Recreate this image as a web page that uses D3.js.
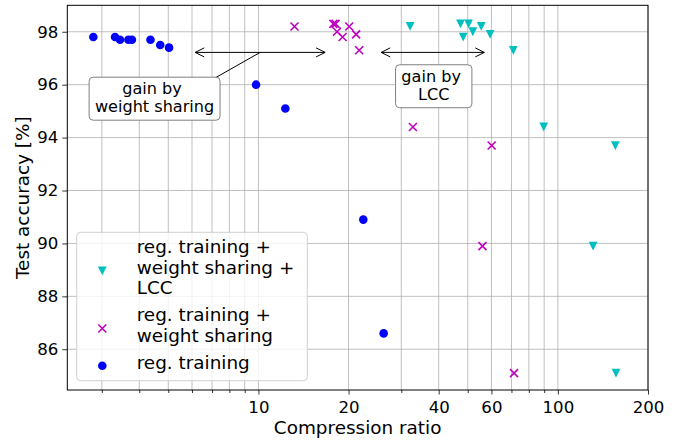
<!DOCTYPE html>
<html>
<head>
<meta charset="utf-8">
<script src="https://cdn.jsdelivr.net/npm/d3@7"></script>
<style>
  body { margin: 0; background: #fff; }
  svg { display: block; }
  text { font-family: "DejaVu Sans", sans-serif; }
</style>
</head>
<body>
<div id="chart"></div>
<script>
// reg. training (blue circles)
const regX = [2.81, 3.32, 3.45, 3.68, 3.78, 4.36, 4.70, 5.03, 9.82, 12.3, 22.4, 26.2];
const regY = [97.8, 97.8, 97.7, 97.7, 97.7, 97.7, 97.5, 97.4, 96.0, 95.1, 90.9, 86.6];

// reg. training + weight sharing (magenta crosses)
const wsX = [13.2, 17.8, 18.1, 18.3, 19.1, 20.1, 21.2, 21.7, 32.8, 60.1, 56.0, 71.4];
const wsY = [98.2, 98.3, 98.3, 98.0, 97.8, 98.2, 97.9, 97.3, 94.4, 93.7, 89.9, 85.1];

// reg. training + weight sharing + LCC (cyan triangles)
const lccX = [32.1, 47.3, 50.3, 48.3, 52.0, 55.5, 59.4, 71.0, 89.7, 155.6, 131.1, 156.4];
const lccY = [98.2, 98.3, 98.3, 97.8, 98.0, 98.2, 97.9, 97.3, 94.4, 93.7, 89.9, 85.1];

const xTickLabels = [10, 20, 40, 60, 100, 200];
const xMinorTicks = [3, 4, 5, 6, 7, 8, 9, 30, 50, 70, 80, 90];
const yTicks = [86, 88, 90, 92, 94, 96, 98];

const legendLabels = [
  ["reg. training +", "weight sharing +", "LCC"],
  ["reg. training +", "weight sharing"],
  ["reg. training"]
];

const w = 689, h = 443;
const margin = { top: 5.3, right: 41, bottom: 53, left: 67.3 };
const iw = w - margin.left - margin.right;
const ih = h - margin.top - margin.bottom;
const colors = { reg: "#0000ff", ws: "#bf00bf", lcc: "#00bfbf" };
const tickFont = 16.6, labelFont = 18.4, noteFont = 16.1;

const svg = d3.select("#chart").append("svg").attr("width", w).attr("height", h);
const g = svg.append("g").attr("transform", `translate(${margin.left},${margin.top})`);

const x = d3.scaleLog().domain([2.3, 200]).range([0, iw]);
const y = d3.scaleLinear().domain([84.46, 99.0]).range([ih, 0]);

// grid
const grid = g.append("g").attr("stroke", "#b0b0b0").attr("stroke-width", 0.8);
grid.selectAll(".vx")
  .data(xTickLabels.concat(xMinorTicks))
  .enter().append("line")
  .attr("x1", d => x(d)).attr("x2", d => x(d))
  .attr("y1", 0).attr("y2", ih);
grid.selectAll(".hy")
  .data(yTicks)
  .enter().append("line")
  .attr("x1", 0).attr("x2", iw)
  .attr("y1", d => y(d)).attr("y2", d => y(d));

// axes
const xAxis = g.append("g").attr("transform", `translate(0,${ih})`)
  .call(d3.axisBottom(x).tickValues(xTickLabels).tickFormat(d3.format("d")).tickSize(4.5).tickPadding(6.5));
const xMinor = g.append("g").attr("transform", `translate(0,${ih})`)
  .call(d3.axisBottom(x).tickValues(xMinorTicks).tickFormat("").tickSize(3));
const yAxis = g.append("g")
  .call(d3.axisLeft(y).tickValues(yTicks).tickSize(5).tickPadding(4));

[xAxis, xMinor, yAxis].forEach(a => {
  a.select(".domain").remove();
  a.selectAll("line").attr("stroke", "#000").attr("stroke-width", 0.8);
  a.selectAll("text").attr("font-size", tickFont).attr("fill", "#000")
    .attr("font-family", "DejaVu Sans");
});

// frame
g.append("rect").attr("width", iw).attr("height", ih)
  .attr("fill", "none").attr("stroke", "#000").attr("stroke-width", 1);

// labels
svg.append("text").attr("x", margin.left + iw / 2).attr("y", 434.3)
  .attr("text-anchor", "middle").attr("font-size", labelFont).text("Compression ratio");
svg.append("text")
  .attr("transform", `translate(28.5,${margin.top + ih / 2}) rotate(-90)`)
  .attr("text-anchor", "middle").attr("font-size", labelFont).text("Test accuracy [%]");

// markers
const ts = 4.4;
const triPath = `M0,${ts}L${-ts},${-ts}L${ts},${-ts}Z`;
function drawCross(sel, cx, cy, col, s) {
  sel.append("path")
    .attr("d", `M${cx - s},${cy - s}L${cx + s},${cy + s}M${cx - s},${cy + s}L${cx + s},${cy - s}`)
    .attr("stroke", col).attr("stroke-width", 1.6).attr("fill", "none");
}

const pts = g.append("g");
lccX.forEach((v, i) => {
  pts.append("path").attr("d", triPath)
    .attr("transform", `translate(${x(v)},${y(lccY[i])})`)
    .attr("fill", colors.lcc);
});
wsX.forEach((v, i) => drawCross(pts, x(v), y(wsY[i]), colors.ws, 4));
regX.forEach((v, i) => {
  pts.append("circle").attr("cx", x(v)).attr("cy", y(regY[i])).attr("r", 4.3)
    .attr("fill", colors.reg);
});

// annotations
const ann = g.append("g");
function dblArrow(x1, x2, yy) {
  const a = x(x1), b = x(x2), c = y(yy);
  ann.append("line").attr("x1", a).attr("x2", b).attr("y1", c).attr("y2", c)
    .attr("stroke", "#000").attr("stroke-width", 1);
  ann.append("path")
    .attr("d", `M${a + 9},${c - 4.5}L${a},${c}L${a + 9},${c + 4.5}M${b - 9},${c - 4.5}L${b},${c}L${b - 9},${c + 4.5}`)
    .attr("stroke", "#000").attr("fill", "none").attr("stroke-width", 1);
}
function noteBox(cxv, cyv, lines) {
  const cx = x(cxv), cy = y(cyv);
  const gg = ann.append("g");
  const rect = gg.append("rect");
  const t = gg.append("text").attr("text-anchor", "middle").attr("font-size", noteFont)
    .style("white-space", "pre");
  lines.forEach((l, i) => {
    t.append("tspan").attr("x", cx)
      .attr("y", cy + (i - (lines.length - 1) / 2) * 17.5 + 4.5).text(l);
  });
  const bb = t.node().getBBox();
  rect.attr("x", cx - bb.width / 2 - 5.8).attr("y", cy - 21.5)
    .attr("width", bb.width + 11.6).attr("height", 43).attr("rx", 4)
    .attr("fill", "#fff").attr("stroke", "#7f7f7f").attr("stroke-width", 1);
}

dblArrow(6.15, 16.7, 97.22);
ann.append("line")
  .attr("x1", x(7.13)).attr("y1", y(96.24))
  .attr("x2", x(Math.sqrt(6.15 * 16.7))).attr("y2", y(97.22))
  .attr("stroke", "#000").attr("stroke-width", 1);
noteBox(4.50, 95.47, ["gain by ", "weight sharing"]);

dblArrow(25.7, 56.8, 97.22);
noteBox(38.5, 95.94, ["gain by ", "LCC"]);

// legend
const lg = svg.append("g");
lg.append("rect").attr("x", 76.7).attr("y", 232.3).attr("width", 230.6).attr("height", 148.4)
  .attr("rx", 4).attr("fill", "#fff").attr("fill-opacity", 0.8)
  .attr("stroke", "#d0d0d0").attr("stroke-width", 1);

const markerX = 102.3, textX = 136.7, lineGap = 20.5, entryGap = 27;
let ly = 253.3;
const legendMarks = [
  (cx, cy) => lg.append("path").attr("d", triPath)
    .attr("transform", `translate(${cx},${cy})`).attr("fill", colors.lcc),
  (cx, cy) => drawCross(lg, cx, cy, colors.ws, 4),
  (cx, cy) => lg.append("circle").attr("cx", cx).attr("cy", cy).attr("r", 4.3).attr("fill", colors.reg)
];
legendLabels.forEach((lines, i) => {
  const midBase = ly + (lines.length - 1) * lineGap / 2;
  legendMarks[i](markerX, midBase - 3);
  lines.forEach((l, j) => {
    lg.append("text").attr("x", textX).attr("y", ly + j * lineGap)
      .attr("font-size", labelFont).text(l);
  });
  ly += (lines.length - 1) * lineGap + entryGap;
});
</script>
</body>
</html>
